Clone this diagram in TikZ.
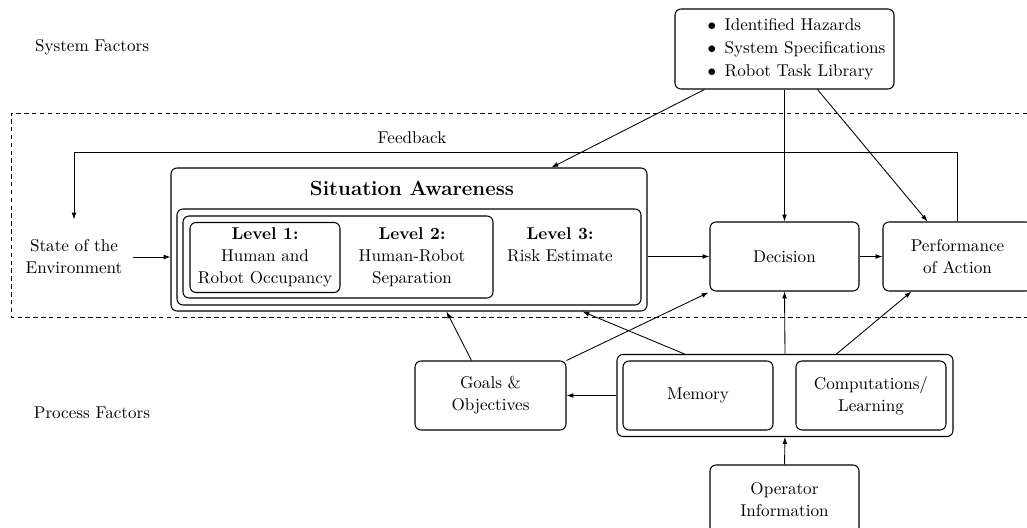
\documentclass[tikz,border=0pt]{standalone}
\usetikzlibrary{arrows.meta,calc}
\begin{document}
\begin{tikzpicture}[x=0.585pt,y=-0.585pt,
  every node/.style={font=\fontsize{10}{12.9}\selectfont, align=center},
  mybox/.style n args={2}{draw, line width=0.6pt, rounded corners=3.5pt,
    minimum width=#1*0.585pt, minimum height=#2*0.585pt, inner sep=0pt},
  arr/.style={-{Latex[length=4pt,width=2.8pt]}, line width=0.5pt},
  ln/.style={line width=0.5pt}]
\useasboundingbox (0,0) rectangle (1027,528);
% dashed region
\draw[line width=0.5pt, dash pattern=on 2.6pt off 2pt] (1035,113) -- (11,113) -- (11,317) -- (1035,317);
% labels
\node (sysf) at (92,47) {System Factors};
\node (procf) at (92,413) {Process Factors};
% hazards
\node[mybox={219}{80}, font=\fontsize{10}{13.4}\selectfont] (haz) at (784.5,49)
  {\hspace*{14pt}\begin{tabular}{@{}l@{}}
   \makebox[10pt][l]{$\bullet$}Identified Hazards\\
   \makebox[10pt][l]{$\bullet$}System Specifications\\
   \makebox[10pt][l]{$\bullet$}Robot Task Library
   \end{tabular}};
% situation awareness
\node[mybox={476}{143}] (sa) at (409,239.5) {};
\node[font=\bfseries\large] (satitle) at (412,188) {Situation Awareness};
\node[mybox={464}{96}] (l3) at (409,257) {};
\node[mybox={310}{82}] (l2) at (338,257) {};
\node[mybox={150}{70}] (l1) at (265,257.5) {\textbf{Level 1:}\\Human and\\Robot Occupancy};
\node (l2t) at (412,257) {\textbf{Level 2:}\\Human-Robot\\Separation};
\node (l3t) at (560,244.5) {\textbf{Level 3:}\\Risk Estimate};
% decision / performance
\node[mybox={149}{69}] (dec) at (784.5,256.5) {Decision};
\node[mybox={149}{69}] (perf) at (957.5,256.5) {Performance\\of Action};
% state
\node[inner xsep=5.8pt, inner ysep=11.7pt] (state) at (74,257) {State of the\\Environment};
% process
\node[mybox={151}{69}] (goals) at (490.5,395.5) {Goals \&\\Objectives};
\node[mybox={336}{82}] (proc) at (785,395.5) {};
\node[mybox={150}{69}] (mem) at (698,395.5) {Memory};
\node[mybox={150}{69}] (comp) at (871,395.5) {Computations/\\Learning};
\node[mybox={149}{69}] (op) at (784.5,499.5) {Operator\\Information};
% feedback
\coordinate (fbl) at (74,152);
\draw[arr] (perf.north) |- (fbl) -- (state.north);
\node (fbt) at (412,138) {Feedback};
% arrows
\draw[arr] (state.east) -- (state.east -| sa.west);
\draw[arr] (sa.east |- dec.west) -- (dec.west);
\draw[arr] (dec.east) -- (perf.west);
\draw[arr] ($(haz.south west)+(30,0)$) -- ($(sa.north west)+(381,0)$);
\draw[arr] (haz.south) -- (dec.north);
\draw[arr] ($(haz.south west)+(143,0)$) -- ($(perf.north west)+(45,0)$);
\draw[arr] (proc.west) -- (proc.west -| goals.east);
\draw[arr] ($(goals.north west)+(57,0)$) -- ($(sa.south west)+(276,0)$);
\draw[arr] ($(proc.north west)+(68,0)$) -- ($(sa.south west)+(412,0)$);
\draw[arr] (goals.north east) -- ($(dec.south west)+(-1,1)$);
\draw[arr] (proc.north) -- (dec.south);
\draw[arr] ($(proc.north west)+(220,0)$) -- ($(perf.south west)+(29,0)$);
\draw[arr] (op.north) -- (proc.south);
\end{tikzpicture}
\end{document}
